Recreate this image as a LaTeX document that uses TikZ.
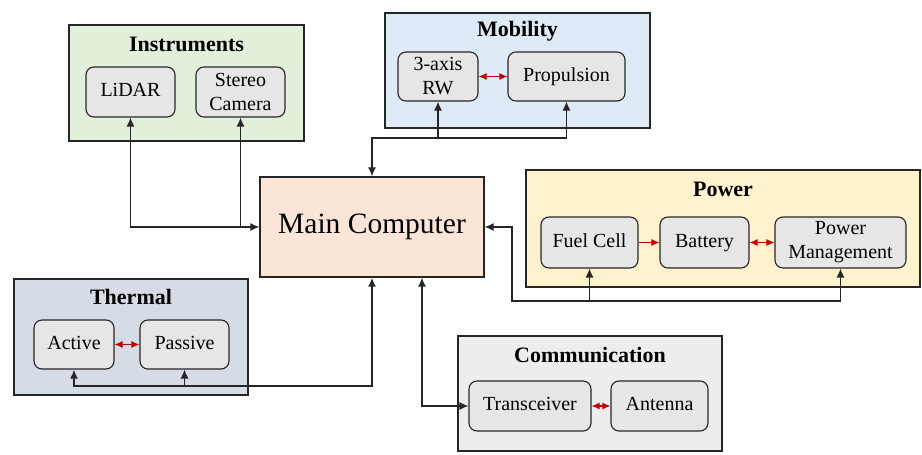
\documentclass[tikz,border=0pt]{standalone}
\usepackage{fontspec}
\setmainfont{Liberation Serif}
\usetikzlibrary{arrows.meta,calc}
\definecolor{instrfill}{HTML}{E2EFDA}
\definecolor{mobfill}{HTML}{DEEBF7}
\definecolor{mcfill}{HTML}{FBE5D6}
\definecolor{powfill}{HTML}{FFF2CC}
\definecolor{thermfill}{HTML}{D6DCE5}
\definecolor{commfill}{HTML}{EDEDED}
\definecolor{compfill}{HTML}{E6E6E6}
\definecolor{edge}{HTML}{262626}
\definecolor{redarrow}{HTML}{C00000}
\tikzset{
  grp/.style={draw=edge, line width=1.4pt, inner sep=0pt},
  grptitle/.style={font=\fontsize{22}{26}\selectfont\bfseries, inner sep=0pt},
  comp/.style={draw=edge, line width=1.1pt, fill=compfill, rounded corners=8pt,
    align=center, inner sep=0pt, font=\fontsize{20}{24}\selectfont},
  conn/.style={draw=edge, line width=1.2pt, {Latex[length=9pt,width=8pt]}-{Latex[length=9pt,width=8pt]}},
  conn1/.style={draw=edge, line width=1.2pt, -{Latex[length=9pt,width=8pt]}},
  rconn/.style={draw=redarrow, line width=1.2pt, {Latex[length=8pt,width=7pt]}-{Latex[length=8pt,width=7pt]}},
  rconn1/.style={draw=redarrow, line width=1.2pt, -{Latex[length=8pt,width=7pt]}},
}
\begin{document}
\begin{tikzpicture}[x=1pt,y=-1pt]
\useasboundingbox (0,0) rectangle (922,455);
% groups
\node[grp, fill=instrfill, minimum width=235pt, minimum height=116pt] (instr) at (186.5,83) {};
\node[grptitle] (instrt) at (186.5,44) {Instruments};
\node[grp, fill=mobfill, minimum width=265pt, minimum height=115pt] (mob) at (517.5,70.5) {};
\node[grptitle] (mobt) at (517.5,31) {Mobility};
\node[grp, fill=powfill, minimum width=394pt, minimum height=117pt] (pow) at (723,228.5) {};
\node[grptitle] (powt) at (723,189) {Power};
\node[grp, fill=thermfill, minimum width=234pt, minimum height=116pt] (therm) at (131,337) {};
\node[grptitle] (thermt) at (131,297) {Thermal};
\node[grp, fill=commfill, minimum width=264pt, minimum height=115pt] (comm) at (590,393.5) {};
\node[grptitle] (commt) at (590,355) {Communication};
% main computer
\node[draw=edge, line width=1.3pt, fill=mcfill, minimum width=224pt, minimum height=100pt,
  inner sep=0pt, font=\fontsize{29.5}{34}\selectfont] (mc) at (372,227) {Main Computer};
% components
\node[comp, minimum width=89pt, minimum height=50pt] (lidar) at (130.5,92) {\strut LiDAR};
\node[comp, minimum width=89pt, minimum height=50pt] (stereo) at (240.5,92) {Stereo\\Camera};
\node[comp, minimum width=80pt, minimum height=49pt] (rw) at (438,76.5) {3-axis\\RW};
\node[comp, minimum width=117pt, minimum height=49pt] (prop) at (566.5,76.5) {\strut Propulsion};
\node[comp, minimum width=97pt, minimum height=51pt] (fc) at (589.5,242.5) {\strut Fuel Cell};
\node[comp, minimum width=89pt, minimum height=51pt] (bat) at (704.5,242.5) {\strut Battery};
\node[comp, minimum width=131pt, minimum height=51pt] (pm) at (840.5,242.5) {Power\\Management};
\node[comp, minimum width=80pt, minimum height=49pt] (active) at (74,344.5) {\strut Active};
\node[comp, minimum width=89pt, minimum height=49pt] (passive) at (184.5,344.5) {\strut Passive};
\node[comp, minimum width=122pt, minimum height=50pt] (trans) at (530,406) {\strut Transceiver};
\node[comp, minimum width=97pt, minimum height=50pt] (ant) at (659.5,406) {\strut Antenna};
% red internal links
\draw[rconn] (rw) -- (prop);
\draw[rconn1] (fc) -- (bat);
\draw[rconn] (bat) -- (pm);
\draw[rconn] (active) -- (passive);
\draw[rconn] (trans) -- (ant);
% instruments
\draw[conn] (lidar.south) |- (mc.west);
\draw[conn1] (mc.west -| stereo.south) -- (stereo.south);
% mobility
\coordinate (mobj) at (372,138);
\draw[conn] (mc.north) -- (mobj) -| (prop.south);
\draw[conn1] (rw.south |- mobj) -- (rw.south);
% power
\coordinate (pw1) at (512,227);
\coordinate (pw2) at (512,301);
\draw[conn] (mc.east) -- (pw1) -- (pw2) -| (pm.south);
\draw[conn1] (fc.south |- pw2) -- (fc.south);
% thermal
\coordinate (thj) at (372,386);
\draw[conn, line width=1.7pt] (mc.south) -- (thj) -| (active.south);
\draw[conn1] (passive.south |- thj) -- (passive.south);
% communication
\coordinate (cmj) at (422,406);
\draw[conn] (mc.south -| cmj) -- (cmj) -- (trans.west);
\end{tikzpicture}
\end{document}
